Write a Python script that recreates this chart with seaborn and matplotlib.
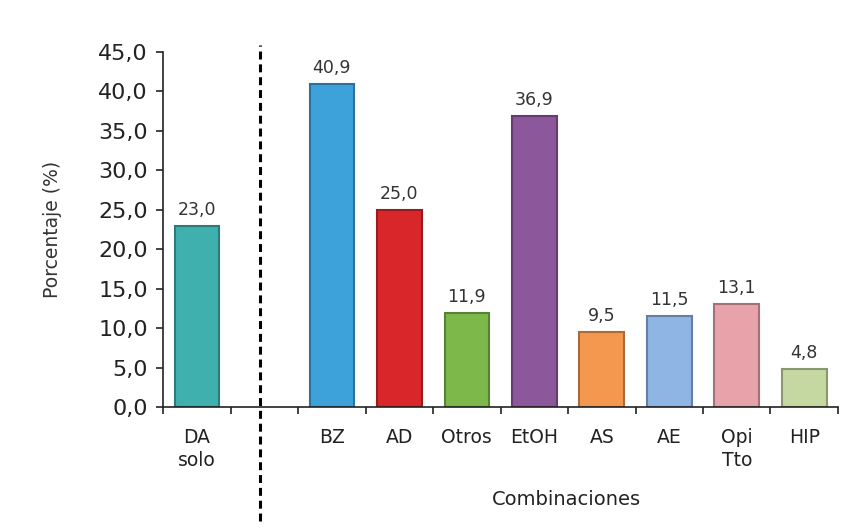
import numpy as np
import pandas as pd
import matplotlib.pyplot as plt
import matplotlib.colors as mcolors
import seaborn as sns

# datos
categorias = ['DA\nsolo', ' ', 'BZ', 'AD', 'Otros', 'EtOH', 'AS', 'AE', 'Opi\nTto', 'HIP']
etiquetas = ['DA\nsolo', '', 'BZ', 'AD', 'Otros', 'EtOH', 'AS', 'AE', 'Opi\nTto', 'HIP']
grupos = ['DA\nsolo', 'BZ', 'AD', 'Otros', 'EtOH', 'AS', 'AE', 'Opi\nTto', 'HIP']
porcentajes = [23.0, 40.9, 25.0, 11.9, 36.9, 9.5, 11.5, 13.1, 4.8]
colores = ['#3fb0ae', '#3da2da', '#d9262a', '#7cb94a', '#8d579c',
           '#f5984f', '#8fb5e4', '#e8a3aa', '#c6d8a2']

df = pd.DataFrame({'grupo': grupos, 'pct': porcentajes})
paleta = dict(zip(grupos, colores))

sns.set_style("white")
plt.rcParams['font.family'] = ['DejaVu Sans']

fig = plt.figure(figsize=(8.63, 5.29), dpi=100)
ax = fig.add_axes([0.189, 0.2306, 0.782, 0.6711])

sns.barplot(data=df, x='grupo', y='pct', hue='grupo', order=categorias,
            palette=paleta, saturation=1, width=0.66, legend=False, ax=ax)

# borde más oscuro para imitar el relieve
for patch in ax.patches:
    fc = np.array(mcolors.to_rgb(patch.get_facecolor()))
    patch.set_edgecolor(fc * 0.7)
    patch.set_linewidth(1.5)

for c in ax.containers:
    ax.bar_label(c, labels=[f"{v:.1f}".replace('.', ',') for v in c.datavalues],
                 padding=5, fontsize=12.5, color='#333333')

ax.set_ylim(0, 45)
ax.set_xlim(-0.5, 9.5)
ax.set_yticks(np.arange(0, 46, 5))
ax.set_yticklabels([f"{v:.1f}".replace('.', ',') for v in np.arange(0, 46, 5)],
                   fontsize=16, color='#222222')
ax.set_xticks(range(len(categorias)))
ax.set_xticklabels(etiquetas, fontsize=13.5, color='#222222', linespacing=1.3)
ax.set_xticks(np.arange(-0.5, 10, 1), minor=True)
ax.tick_params(axis='x', which='major', length=0, pad=15)
ax.tick_params(axis='x', which='minor', bottom=True, length=5, width=1.2,
               direction='out', color='#222222')
ax.tick_params(axis='y', left=True, length=5, width=1.2, direction='out',
               color='#222222', pad=6)

for s in ['top', 'right']:
    ax.spines[s].set_visible(False)
for s in ['left', 'bottom']:
    ax.spines[s].set_color('#222222')
    ax.spines[s].set_linewidth(1.2)

ax.set_ylabel('Porcentaje (%)', fontsize=13.5, color='#333333')
ax.yaxis.set_label_coords(-0.15, 0.5)
ax.set_xlabel('Combinaciones', fontsize=14, color='#222222')
ax.xaxis.set_label_coords(0.597, -0.234)

# línea divisoria discontinua
ax.axvline(0.93, ymin=-0.32, ymax=1.02, color='black', linestyle=(0, (2.6, 1.6)),
           linewidth=2.2, clip_on=False)

fig.savefig('out.png', dpi=100)
